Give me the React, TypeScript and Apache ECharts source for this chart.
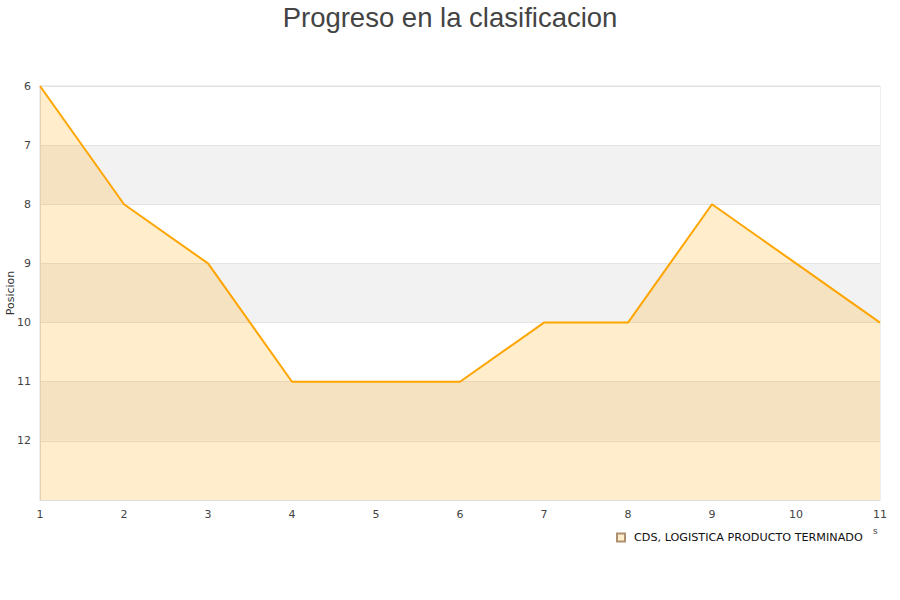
import React, { useEffect, useRef } from "react";
import * as echarts from "echarts";

const rounds = ["1", "2", "3", "4", "5", "6", "7", "8", "9", "10", "11"];
const positions = [6, 8, 9, 11, 11, 11, 10, 10, 8, 9, 10];
const seriesName = "CDS, LOGISTICA PRODUCTO TERMINADO";
const titleText = "Progreso en la clasificacion";
const yAxisName = "Posicion";

export default function App() {
  const ref = useRef<HTMLDivElement>(null);
  useEffect(() => {
    if (!ref.current) return;
    const chart = echarts.init(ref.current, undefined, { renderer: "svg" });
    chart.setOption({
      animation: false,
      backgroundColor: "#ffffff",
      textStyle: { fontFamily: "DejaVu Sans" },
      title: {
        text: titleText,
        left: "center",
        top: -2,
        textStyle: { fontFamily: "Liberation Sans", fontSize: 27.5, fontWeight: "normal", color: "#444444" },
      },
      grid: {
        left: 40,
        right: 20,
        top: 86,
        bottom: 100,
        containLabel: false,
        outerBoundsMode: "none",
        show: true,
        borderColor: "#dddddd",
        borderWidth: 1,
        backgroundColor: "transparent",
      },
      legend: {
        data: [{ name: seriesName, icon: "rect" }],
        left: 611,
        top: 527,
        itemWidth: 8,
        itemHeight: 8,
        itemGap: 6,
        textStyle: { fontSize: 11.2, color: "#111111", padding: [0, 0, 0, 4] },
      },
      xAxis: {
        type: "category",
        data: rounds,
        boundaryGap: false,
        axisLine: { lineStyle: { color: "#dddddd" } },
        axisTick: { show: false },
        axisLabel: { color: "#444444", fontSize: 11, margin: 9 },
        splitLine: { show: false },
      },
      yAxis: {
        type: "value",
        inverse: true,
        min: 6,
        max: 13,
        interval: 1,
        name: yAxisName,
        nameLocation: "middle",
        nameGap: 24,
        nameMoveOverlap: false,
        nameTextStyle: { fontSize: 11, color: "#333333" },
        axisLine: { show: true, lineStyle: { color: "#dddddd" } },
        axisTick: { show: false },
        axisLabel: {
          color: "#444444",
          fontSize: 11,
          margin: 9,
          formatter: (v: number) => (v >= 13 ? "" : String(v)),
        },
        splitLine: { show: true, lineStyle: { color: "#e3e3e3" } },
        splitArea: { show: true, areaStyle: { color: ["#ffffff", "#f2f2f2"] } },
      },
      graphic: [
        { type: "text", left: 873, top: 526, style: { text: "s", fontSize: 9, fill: "#444444" } },
      ],
      series: [
        {
          name: seriesName,
          type: "line",
          data: positions,
          showSymbol: false,
          symbol: "none",
          lineStyle: { color: "#ffa500", width: 2 },
          itemStyle: { color: "#ffedcc", borderColor: "#b09070", borderWidth: 1 },
          areaStyle: { color: "rgba(255,165,0,0.2)", opacity: 1, origin: "end" },
        },
      ],
    });
    return () => chart.dispose();
  }, []);
  return <div ref={ref} style={{ width: 900, height: 600, position: "absolute", left: 0, top: 0 }} />;
}
